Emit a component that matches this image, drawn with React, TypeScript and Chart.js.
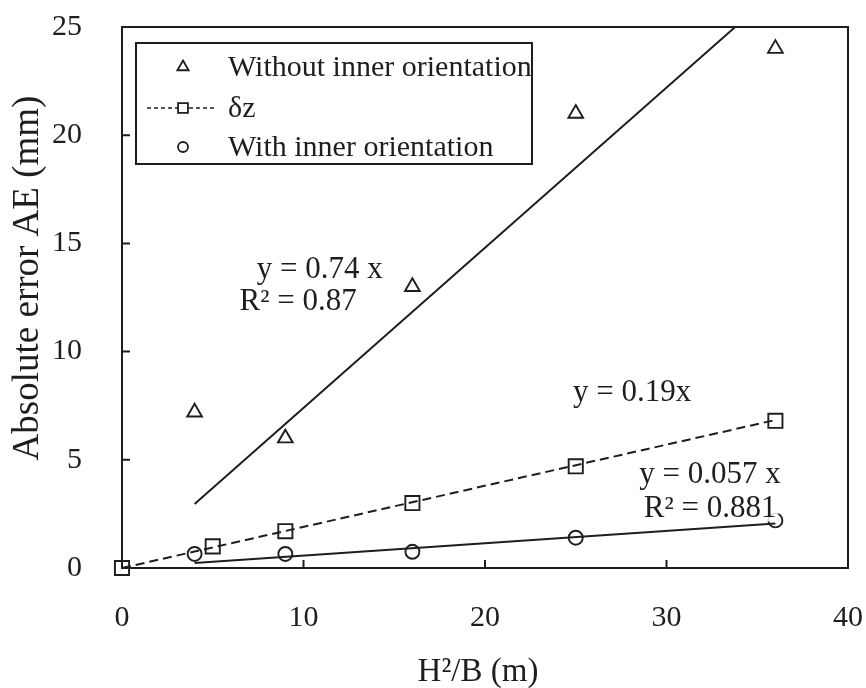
import React, { useEffect, useRef } from "react";
import { Chart, registerables } from "chart.js";

Chart.register(...registerables);

// ---- data ----
const xTickValues = [0, 10, 20, 30, 40];
const yTickValues = [0, 5, 10, 15, 20, 25];

const seriesLabels = ["Without inner orientation", "\u03B4z", "With inner orientation"];

const withoutX = [4, 9, 16, 25, 36];
const withoutY = [7.2, 6.0, 13.0, 21.0, 24.0];

const dzX = [0, 5, 9, 16, 25, 36];
const dzY = [0, 1.0, 1.7, 3.0, 4.7, 6.8];

const withX = [4, 9, 16, 25, 36];
const withY = [0.65, 0.65, 0.75, 1.4, 2.2];

// trend lines (slopes from the fitted equations) and their x extents
const withoutSlope = 0.74;
const withoutTrendX = [4, 33.8];
const dzSlope = 0.19;
const dzTrendX = [0, 36];
const withSlope = 0.057;
const withTrendX = [4, 36];

const annotationTexts = ["y = 0.74 x", "R\u00B2 = 0.87", "y = 0.19x", "y = 0.057 x", "R\u00B2 = 0.881"];
const annotationX = [10.9, 9.7, 28.1, 32.4, 32.4];
const annotationY = [13.8, 12.3, 8.1, 4.3, 2.75];

const xTitle = "H\u00B2/B (m)";
const yTitle = "Absolute error AE (mm)";

const INK = "#1e1e1e";
const FONT = "'Liberation Serif', 'Times New Roman', serif";

const zip = (xs: number[], ys: number[]) => xs.map((x, i) => ({ x, y: ys[i] }));
const trend = (xs: number[], k: number) => xs.map((x) => ({ x, y: k * x }));

function drawMarker(ctx: CanvasRenderingContext2D, kind: string, x: number, y: number, r: number) {
  ctx.beginPath();
  if (kind === "triangle") {
    ctx.moveTo(x, y - r);
    ctx.lineTo(x + r * 0.866, y + r * 0.5);
    ctx.lineTo(x - r * 0.866, y + r * 0.5);
    ctx.closePath();
  } else if (kind === "rect") {
    ctx.rect(x - r * 0.707, y - r * 0.707, r * 1.414, r * 1.414);
  } else {
    ctx.arc(x, y, r, 0, Math.PI * 2);
  }
  ctx.fillStyle = "#fff";
  ctx.fill();
  ctx.stroke();
}

const zeroPad = (s: any) => {
  s.paddingTop = 0;
  s.paddingBottom = 0;
  s.paddingLeft = 0;
  s.paddingRight = 0;
};

const decorPlugin = {
  id: "decor",
  afterDraw(chart: any) {
    const { ctx, chartArea } = chart;
    const xs = chart.scales.x;
    const ys = chart.scales.y;
    const { left, right, top, bottom } = chartArea;
    ctx.save();
    ctx.strokeStyle = INK;
    ctx.fillStyle = INK;
    // frame
    ctx.lineWidth = 2;
    ctx.strokeRect(left, top, right - left, bottom - top);
    // inward ticks
    ctx.beginPath();
    xTickValues.forEach((v) => {
      const px = xs.getPixelForValue(v);
      ctx.moveTo(px, bottom);
      ctx.lineTo(px, bottom - 8);
    });
    yTickValues.forEach((v) => {
      const py = ys.getPixelForValue(v);
      ctx.moveTo(left, py);
      ctx.lineTo(left + 8, py);
    });
    ctx.stroke();

    // axis titles
    ctx.fillStyle = INK;
    ctx.textAlign = "center";
    ctx.textBaseline = "middle";
    ctx.font = `33px ${FONT}`;
    ctx.fillText(xTitle, 478, 672);
    ctx.save();
    ctx.translate(28, 278);
    ctx.rotate(-Math.PI / 2);
    ctx.font = `37px ${FONT}`;
    ctx.fillText(yTitle, 0, 0);
    ctx.restore();

    // annotations
    ctx.font = `31px ${FONT}`;
    annotationTexts.forEach((t, i) => {
      const px = xs.getPixelForValue(annotationX[i]);
      const py = ys.getPixelForValue(annotationY[i]);
      ctx.fillStyle = "rgba(255,255,255,0.85)";
      const w = ctx.measureText(t).width;
      ctx.fillRect(px - w / 2 - 2, py - 13, w + 4, 26);
      ctx.fillStyle = INK;
      ctx.fillText(t, px, py);
    });

    // legend box
    const bx = left + 14;
    const by = top + 16;
    const bw = 396;
    const bh = 121;
    ctx.fillStyle = "#fff";
    ctx.fillRect(bx, by, bw, bh);
    ctx.lineWidth = 2;
    ctx.strokeStyle = INK;
    ctx.strokeRect(bx, by, bw, bh);
    const rowY = [by + 24, by + 65, by + 104];
    const markerKinds = ["triangle", "rect", "circle"];
    const mx = bx + 47;
    ctx.font = `30px ${FONT}`;
    ctx.textAlign = "left";
    seriesLabels.forEach((label, i) => {
      ctx.lineWidth = 1.8;
      ctx.strokeStyle = INK;
      if (i === 1) {
        ctx.save();
        ctx.lineWidth = 1.5;
        ctx.setLineDash([4, 3]);
        ctx.beginPath();
        ctx.moveTo(bx + 11, rowY[i]);
        ctx.lineTo(bx + 81, rowY[i]);
        ctx.stroke();
        ctx.restore();
      }
      drawMarker(ctx, markerKinds[i], mx, rowY[i], markerKinds[i] === "triangle" ? 6.5 : markerKinds[i] === "rect" ? 7 : 5);
      ctx.fillStyle = INK;
      ctx.fillText(label, bx + 92, rowY[i] + 1);
    });
    ctx.restore();
  },
};

export default function App() {
  const ref = useRef<HTMLCanvasElement | null>(null);

  useEffect(() => {
    if (!ref.current) return;
    const pointBase = {
      showLine: false,
      borderColor: INK,
      backgroundColor: "rgba(255,255,255,0)",
      pointBorderColor: INK,
      pointBackgroundColor: "rgba(255,255,255,0)",
      pointBorderWidth: 1.9,
      clip: false as any,
    };
    const lineBase = {
      showLine: true,
      borderColor: INK,
      borderWidth: 2,
      pointRadius: 0,
      fill: false,
      clip: false as any,
    };
    const chart = new Chart(ref.current, {
      type: "scatter",
      data: {
        datasets: [
          { ...lineBase, label: "trend1", data: trend(withoutTrendX, withoutSlope) },
          { ...lineBase, label: "trend2", data: trend(dzTrendX, dzSlope), borderDash: [9, 5], borderWidth: 2 },
          { ...lineBase, label: "trend3", data: trend(withTrendX, withSlope) },
          { ...pointBase, label: seriesLabels[0], data: zip(withoutX, withoutY), pointStyle: "triangle", pointRadius: 8.5 },
          { ...pointBase, label: seriesLabels[1], data: zip(dzX, dzY), pointStyle: "rect", pointRadius: 10 },
          { ...pointBase, label: seriesLabels[2], data: zip(withX, withY), pointStyle: "circle", pointRadius: 7 },
        ] as any,
      },
      options: {
        animation: false,
        responsive: false,
        devicePixelRatio: 1,
        layout: { padding: { top: 27, right: 18, left: 0, bottom: 0 } },
        plugins: { legend: { display: false }, tooltip: { enabled: false } },
        scales: {
          x: {
            type: "linear",
            min: 0,
            max: 40,
            afterFit: (s: any) => {
              s.height = 120;
              zeroPad(s);
            },
            afterBuildTicks: (s: any) => {
              s.ticks = xTickValues.map((v) => ({ value: v }));
            },
            ticks: { font: { family: FONT, size: 30 }, color: INK, padding: 32, maxRotation: 0 },
            grid: { display: false, drawTicks: false },
            border: { display: false },
          },
          y: {
            type: "linear",
            min: 0,
            max: 25,
            afterFit: (s: any) => {
              s.width = 122;
              zeroPad(s);
            },
            afterBuildTicks: (s: any) => {
              s.ticks = yTickValues.map((v) => ({ value: v }));
            },
            ticks: { font: { family: FONT, size: 30 }, color: INK, padding: 40 },
            grid: { display: false, drawTicks: false },
            border: { display: false },
          },
        },
      } as any,
      plugins: [decorPlugin],
    });
    return () => chart.destroy();
  }, []);

  return (
    <div style={{ position: "absolute", left: 0, top: 0, width: 866, height: 688, background: "#fff" }}>
      <canvas ref={ref} width={866} height={688} style={{ width: 866, height: 688, display: "block" }} />
    </div>
  );
}
